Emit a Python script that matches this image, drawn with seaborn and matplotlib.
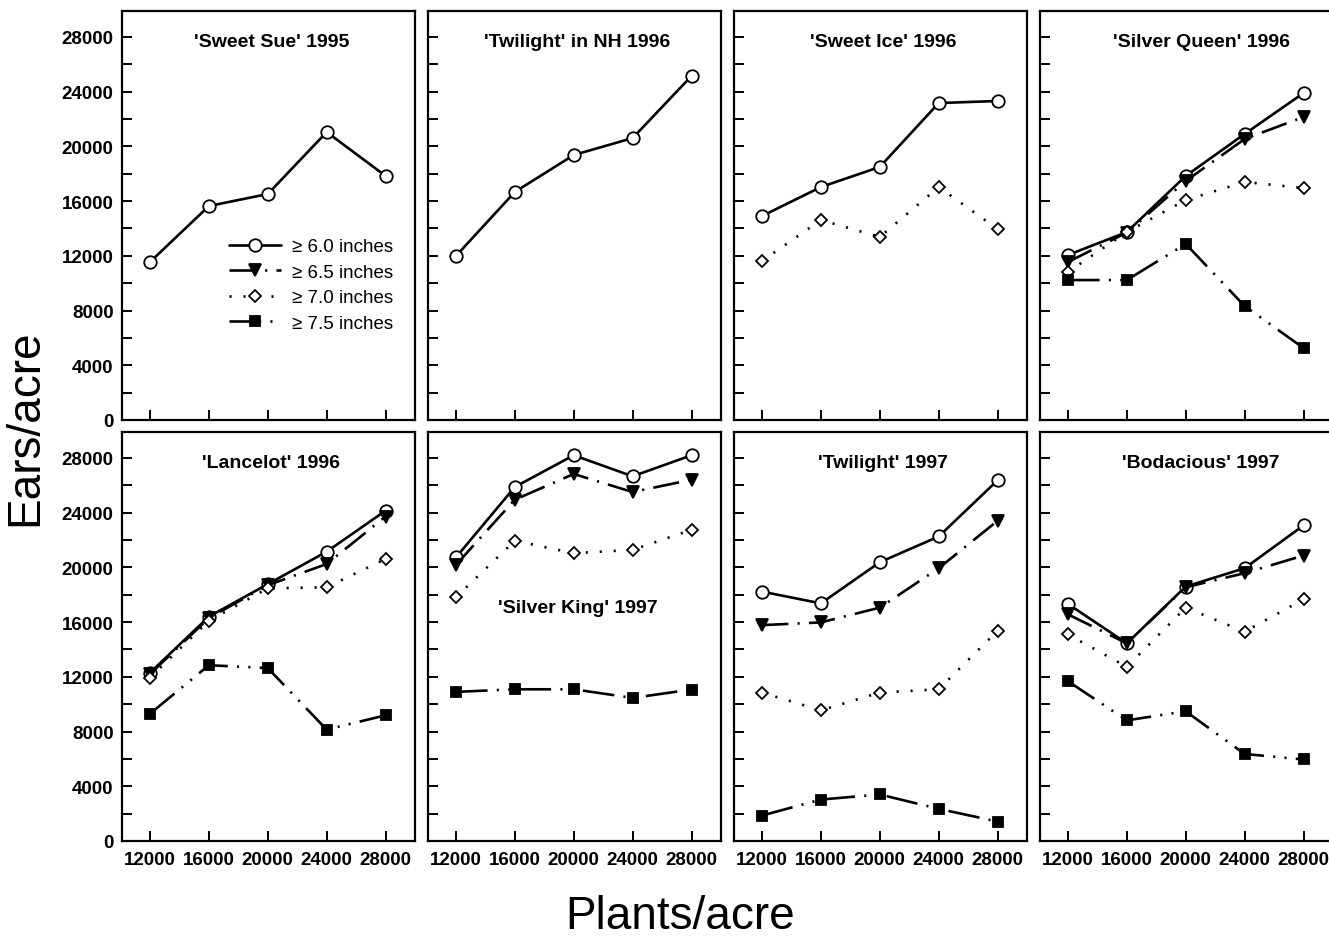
import pandas as pd
import matplotlib
matplotlib.use('Agg')
import matplotlib.pyplot as plt
import seaborn as sns
from matplotlib.ticker import MultipleLocator

plants = [12000, 16000, 20000, 24000, 28000]

# ears/acre, one list per size class
sweet_sue_1995 = {'6.0': [11550, 15640, 16520, 21050, 17840]}
twilight_nh_1996 = {'6.0': [11990, 16670, 19370, 20610, 25150]}
sweet_ice_1996 = {'6.0': [14910, 17030, 18500, 23170, 23320],
                  '7.0': [11620, 14620, 13380, 17030, 13960]}
silver_queen_1996 = {'6.0': [12060, 13740, 17840, 20910, 23900],
                     '6.5': [11550, 13700, 17470, 20540, 22150],
                     '7.0': [10820, 13740, 16080, 17400, 16960],
                     '7.5': [10230, 10230, 12870, 8330, 5260]}
lancelot_1996 = {'6.0': [12300, 16400, 18780, 21150, 24150],
                 '6.5': [12200, 16300, 18700, 20250, 23720],
                 '7.0': [11950, 16100, 18470, 18550, 20620],
                 '7.5': [9300, 12850, 12640, 8140, 9190]}
silver_king_1997 = {'6.0': [20730, 25880, 28200, 26660, 28200],
                    '6.5': [20180, 24950, 26830, 25510, 26410],
                    '7.0': [17820, 21950, 21040, 21280, 22750],
                    '7.5': [10900, 11090, 11090, 10460, 11070]}
twilight_1997 = {'6.0': [18230, 17370, 20380, 22260, 26370],
                 '6.5': [15780, 15980, 17060, 19940, 23410],
                 '7.0': [10850, 9550, 10850, 11090, 15370],
                 '7.5': [1860, 3030, 3400, 2350, 1420]}
bodacious_1997 = {'6.0': [17330, 14450, 18600, 19940, 23070],
                  '6.5': [16570, 14450, 18550, 19580, 20870],
                  '7.0': [15100, 12730, 17060, 15300, 17670],
                  '7.5': [11680, 8820, 9480, 6360, 5960]}

panels = [("'Sweet Sue' 1995", sweet_sue_1995),
          ("'Twilight' in NH 1996", twilight_nh_1996),
          ("'Sweet Ice' 1996", sweet_ice_1996),
          ("'Silver Queen' 1996", silver_queen_1996),
          ("'Lancelot' 1996", lancelot_1996),
          ("'Silver King' 1997", silver_king_1997),
          ("'Twilight' 1997", twilight_1997),
          ("'Bodacious' 1997", bodacious_1997)]

styles = {
    '6.0': dict(marker='o', markerfacecolor='white', markersize=9,
                linestyle='-'),
    '6.5': dict(marker='v', markerfacecolor='black', markersize=8,
                linestyle=(0, (10, 3.5, 0.8, 3.5))),
    '7.0': dict(marker='D', markerfacecolor='white', markersize=6.5,
                linestyle=(0, (0.8, 4.5))),
    '7.5': dict(marker='s', markerfacecolor='black', markersize=7,
                linestyle=(0, (12, 3.5, 0.8, 3.5, 0.8, 3.5))),
}

sns.set_style('ticks')
plt.rcParams['font.family'] = ['Liberation Sans', 'DejaVu Sans']
plt.rcParams['text.color'] = 'black'
plt.rcParams['xtick.color'] = 'black'
plt.rcParams['ytick.color'] = 'black'

fig = plt.figure(figsize=(13.29, 9.37), dpi=100)
lefts = [0.0918, 0.322, 0.5523, 0.7825]
bottoms = [0.5507, 0.1014]
w, h = 0.2205, 0.4365

axes = []
for i, (title, series) in enumerate(panels):
    row, col = divmod(i, 4)
    ax = fig.add_axes([lefts[col], bottoms[row], w, h])
    axes.append(ax)
    for key, vals in series.items():
        df = pd.DataFrame({'plants': plants, 'ears': vals})
        sns.lineplot(data=df, x='plants', y='ears', ax=ax, color='black',
                     lw=1.9, markeredgecolor='black', markeredgewidth=1.3,
                     label='$\\geq$ %s inches' % key, **styles[key])
    if ax.get_legend() is not None:
        ax.get_legend().remove()

    ax.set_xlim(10100, 30000)
    ax.set_ylim(0, 29900)
    ax.set_xticks(plants)
    ax.yaxis.set_major_locator(MultipleLocator(4000))
    ax.yaxis.set_minor_locator(MultipleLocator(2000))
    ax.tick_params(which='both', direction='in', length=7, width=1.4,
                   labelsize=13.5, top=False, right=False)
    ax.tick_params(axis='x', pad=7)
    ax.tick_params(axis='y', pad=6)
    ax.set_xlabel('')
    ax.set_ylabel('')
    for s in ax.spines.values():
        s.set_linewidth(1.6)
        s.set_color('black')
    if col == 0:
        for lab in ax.get_yticklabels():
            lab.set_fontweight('bold')
    else:
        ax.set_yticklabels([])
    if row == 1:
        for lab in ax.get_xticklabels():
            lab.set_fontweight('bold')
    else:
        ax.set_xticklabels([])

    tx, ty = 0.51, 0.925
    if col == 3:
        tx = 0.55
    if title == "'Silver King' 1997":
        ty = 0.57
    ax.text(tx, ty, title, transform=ax.transAxes, ha='center', va='center',
            fontsize=14, fontweight='bold')

handles, labels = axes[3].get_legend_handles_labels()
labels = ['\u2265 ' + l.split('$ ')[1] for l in labels]
axes[0].legend(handles, labels, loc='center', bbox_to_anchor=(0.645, 0.33),
               frameon=False, fontsize=13.5, handlelength=2.8,
               labelspacing=0.45, handletextpad=0.6)

fig.text(0.019, 0.543, 'Ears/acre', rotation=90, ha='center', va='center',
         fontsize=33)
fig.text(0.512, 0.009, 'Plants/acre', ha='center', va='baseline', fontsize=33)

fig.savefig('out.png', dpi=100)
